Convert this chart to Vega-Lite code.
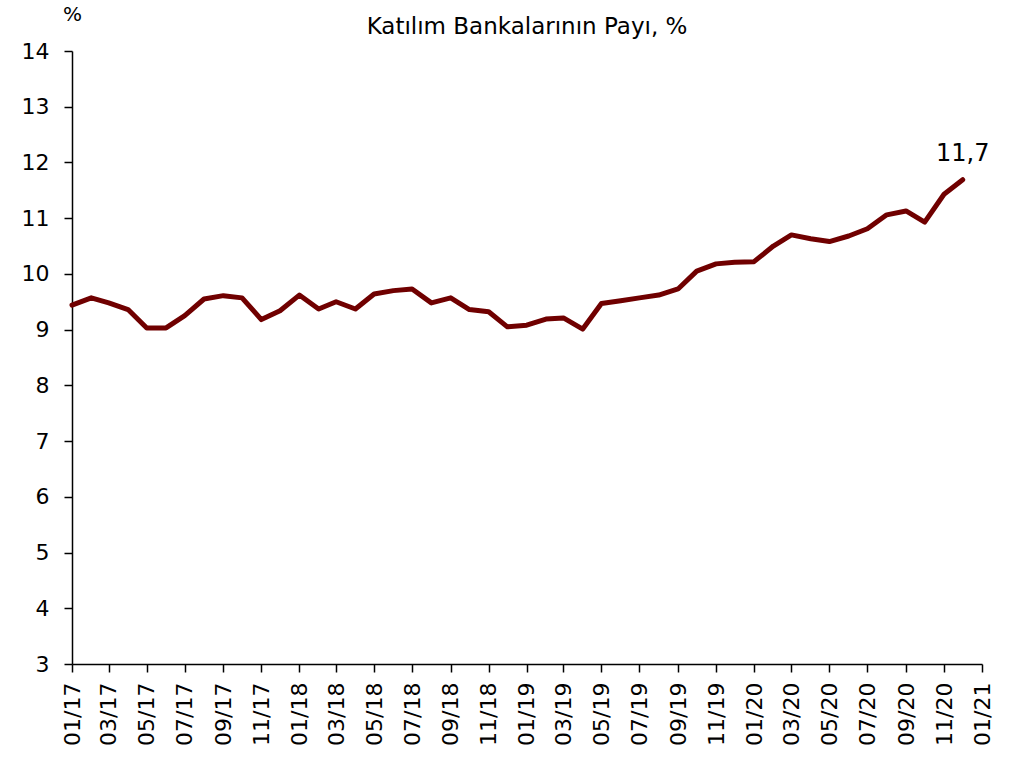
{
  "$schema": "https://vega.github.io/schema/vega-lite/v6.json",
  "autosize": "none",
  "width": 910,
  "height": 613,
  "padding": {"left": 72, "top": 51, "right": 29, "bottom": 93},
  "background": "white",
  "config": {
    "view": {"stroke": null},
    "font": "DejaVu Sans",
    "axis": {"grid": false, "domainColor": "black", "tickColor": "black", "labelColor": "black", "domainWidth": 1.5, "tickWidth": 1.5, "tickSize": 8, "labelFont": "DejaVu Sans", "labelFontSize": 22}
  },
  "title": {"text": "Katılım Bankalarının Payı, %", "fontSize": 23, "fontWeight": "normal", "font": "DejaVu Sans", "color": "black", "anchor": "middle", "offset": -58, "baseline": "bottom"},
  "datasets": {
    "series": [
      {"date": "2017-01-01", "value": 9.44},
      {"date": "2017-02-01", "value": 9.57},
      {"date": "2017-03-01", "value": 9.48},
      {"date": "2017-04-01", "value": 9.36},
      {"date": "2017-05-01", "value": 9.03},
      {"date": "2017-06-01", "value": 9.03},
      {"date": "2017-07-01", "value": 9.25},
      {"date": "2017-08-01", "value": 9.55},
      {"date": "2017-09-01", "value": 9.61},
      {"date": "2017-10-01", "value": 9.57},
      {"date": "2017-11-01", "value": 9.18},
      {"date": "2017-12-01", "value": 9.34},
      {"date": "2018-01-01", "value": 9.62},
      {"date": "2018-02-01", "value": 9.37},
      {"date": "2018-03-01", "value": 9.50},
      {"date": "2018-04-01", "value": 9.37},
      {"date": "2018-05-01", "value": 9.64},
      {"date": "2018-06-01", "value": 9.70},
      {"date": "2018-07-01", "value": 9.73},
      {"date": "2018-08-01", "value": 9.48},
      {"date": "2018-09-01", "value": 9.57},
      {"date": "2018-10-01", "value": 9.36},
      {"date": "2018-11-01", "value": 9.32},
      {"date": "2018-12-01", "value": 9.05},
      {"date": "2019-01-01", "value": 9.08},
      {"date": "2019-02-01", "value": 9.19},
      {"date": "2019-03-01", "value": 9.21},
      {"date": "2019-04-01", "value": 9.01},
      {"date": "2019-05-01", "value": 9.47},
      {"date": "2019-06-01", "value": 9.52},
      {"date": "2019-07-01", "value": 9.57},
      {"date": "2019-08-01", "value": 9.62},
      {"date": "2019-09-01", "value": 9.73},
      {"date": "2019-10-01", "value": 10.05},
      {"date": "2019-11-01", "value": 10.18},
      {"date": "2019-12-01", "value": 10.21},
      {"date": "2020-01-01", "value": 10.22},
      {"date": "2020-02-01", "value": 10.50},
      {"date": "2020-03-01", "value": 10.70},
      {"date": "2020-04-01", "value": 10.63},
      {"date": "2020-05-01", "value": 10.58},
      {"date": "2020-06-01", "value": 10.68},
      {"date": "2020-07-01", "value": 10.81},
      {"date": "2020-08-01", "value": 11.06},
      {"date": "2020-09-01", "value": 11.13},
      {"date": "2020-10-01", "value": 10.93},
      {"date": "2020-11-01", "value": 11.43},
      {"date": "2020-12-01", "value": 11.69}
    ],
    "labels": [
      {"date": "2020-12-01", "value": 11.69, "label": "11,7"}
    ]
  },
  "encoding": {
    "x": {
      "field": "date", "type": "temporal",
      "scale": {"type": "utc", "domain": ["2017-01-01", "2021-01-01"]},
      "axis": {"title": null, "format": "%m/%y", "tickCount": {"interval": "month", "step": 2}, "labelAngle": -90, "labelPadding": 10, "labelBaseline": "middle", "labelAlign": "right", "labelFlush": false, "labelOverlap": false}
    },
    "y": {
      "field": "value", "type": "quantitative",
      "scale": {"domain": [3, 14], "nice": false, "zero": false},
      "axis": {"values": [3, 4, 5, 6, 7, 8, 9, 10, 11, 12, 13, 14], "title": "%", "titleAngle": 0, "titleX": 0, "titleY": -37, "titleAlign": "center", "titleBaseline": "middle", "titleFontSize": 20, "titleFontWeight": "normal", "titleColor": "black", "titleFont": "DejaVu Sans", "labelPadding": 15}
    }
  },
  "layer": [
    {
      "data": {"name": "series"},
      "mark": {"type": "line", "color": "#700000", "strokeWidth": 5, "strokeJoin": "round", "strokeCap": "round"}
    },
    {
      "data": {"name": "labels"},
      "mark": {"type": "text", "fontSize": 24, "color": "black", "dy": -26, "align": "center", "baseline": "middle"},
      "encoding": {"text": {"field": "label", "type": "nominal"}}
    }
  ]
}
